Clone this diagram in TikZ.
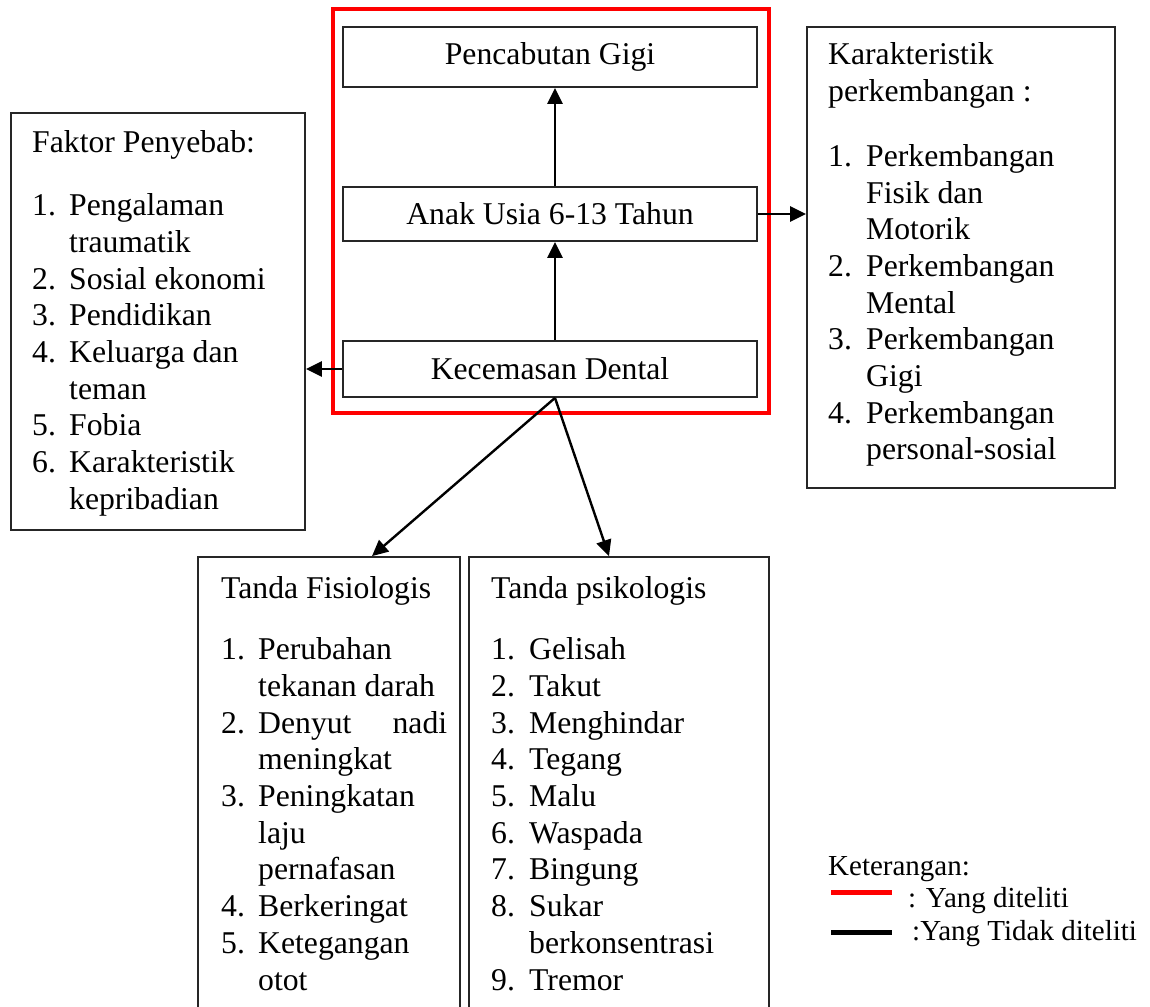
\documentclass[tikz,border=0pt]{standalone}
\usepackage{fontspec}
\setmainfont{Liberation Serif}
\usepackage{tikz}
\usetikzlibrary{arrows.meta,positioning,calc}
\newcommand{\boxfont}{\fontsize{31.7}{36.7}\selectfont}
\newcommand{\legfont}{\fontsize{29}{33}\selectfont}

\begin{document}
\begin{tikzpicture}[x=1pt, y=-1pt, >={Triangle[length=16pt,width=15pt]},
  box/.style={draw=black!85, line width=1.8pt, inner sep=0pt, font=\boxfont},
  list/.style={anchor=base west, inner sep=0pt, font=\boxfont},
  legend/.style={anchor=base west, inner sep=0pt, font=\legfont},
  arr/.style={->, line width=2.4pt}]
\clip (0,0) rectangle (1150,1006);
\fill[white] (0,0) rectangle (1150,1006);
% --- Red frame: part that is studied ---
\node[draw=red, line width=4pt, minimum width=436pt, minimum height=404pt] (diteliti) at (551,211) {};
\node[box, minimum width=414pt, minimum height=60pt] (gigi) at (550,57) {Pencabutan Gigi};
\node[box, minimum width=414pt, minimum height=54pt] (anak) at (550,214) {Anak Usia 6-13 Tahun};
\node[box, minimum width=414pt, minimum height=56pt] (cemas) at (550,369) {Kecemasan Dental};
% --- Side boxes ---
\node[box, minimum width=294pt, minimum height=417pt] (faktor) at (158,321.5) {};
\node[box, minimum width=308pt, minimum height=461pt] (kembang) at (961,257.5) {};
\node[box, minimum width=262pt, minimum height=480pt] (fisio) at (329,797) {};
\node[box, minimum width=300pt, minimum height=480pt] (psiko) at (619,797) {};
\node[list] (faktortxt) at (32,152) {\begin{tabular}[t]{@{}p{37pt}@{}l@{}}
  \multicolumn{2}{@{}l@{}}{Faktor Penyebab:}\\[27pt]
  1. & Pengalaman\\
     & traumatik\\
  2. & Sosial ekonomi\\
  3. & Pendidikan\\
  4. & Keluarga dan\\
     & teman\\
  5. & Fobia\\
  6. & Karakteristik\\
     & kepribadian
\end{tabular}};
\node[list] (kembangtxt) at (828,65) {\begin{tabular}[t]{@{}p{38pt}@{}l@{}}
  \multicolumn{2}{@{}l@{}}{Karakteristik}\\
  \multicolumn{2}{@{}l@{}}{perkembangan :}\\[28pt]
  1. & Perkembangan\\
     & Fisik dan\\
     & Motorik\\
  2. & Perkembangan\\
     & Mental\\
  3. & Perkembangan\\
     & Gigi\\
  4. & Perkembangan\\
     & personal-sosial
\end{tabular}};
\node[list] (fisiotxt) at (221,598) {\begin{tabular}[t]{@{}p{37pt}@{}l@{}}
  \multicolumn{2}{@{}l@{}}{Tanda Fisiologis}\\[25pt]
  1. & Perubahan\\
     & tekanan darah\\
  2. & \makebox[189pt][l]{Denyut\hfill nadi}\\
     & meningkat\\
  3. & Peningkatan\\
     & laju\\
     & pernafasan\\
  4. & Berkeringat\\
  5. & Ketegangan\\
     & otot
\end{tabular}};
\node[list] (psikotxt) at (491,598) {\begin{tabular}[t]{@{}p{38pt}@{}l@{}}
  \multicolumn{2}{@{}l@{}}{Tanda psikologis}\\[25pt]
  1. & Gelisah\\
  2. & Takut\\
  3. & Menghindar\\
  4. & Tegang\\
  5. & Malu\\
  6. & Waspada\\
  7. & Bingung\\
  8. & Sukar\\
     & berkonsentrasi\\
  9. & Tremor
\end{tabular}};
% --- Arrows ---
\draw[arr] ([xshift=5pt]cemas.north) -- ([xshift=5pt]anak.south);
\draw[arr] ([xshift=5pt]anak.north) -- ([xshift=5pt]gigi.south);
\draw[arr] (anak.east) -- (anak.east -| kembang.west);
\draw[arr] (cemas.west) -- (cemas.west -| faktor.east);
\draw[arr] ([xshift=5pt]cemas.south) -- ([xshift=43pt]fisio.north);
\draw[arr] ([xshift=5pt]cemas.south) -- ([xshift=-10pt]psiko.north);
% --- Legend ---
\node[legend] (ket) at (828,875) {Keterangan:};
\draw[red, line width=5pt] (831,892) -- (892,892);
\node[legend] (ya) at (908,907) {: Yang diteliti};
\draw[black, line width=5pt] (831,932) -- (892,932);
\node[legend] (tidak) at (912,940) {:Yang Tidak diteliti};
\end{tikzpicture}
\end{document}
